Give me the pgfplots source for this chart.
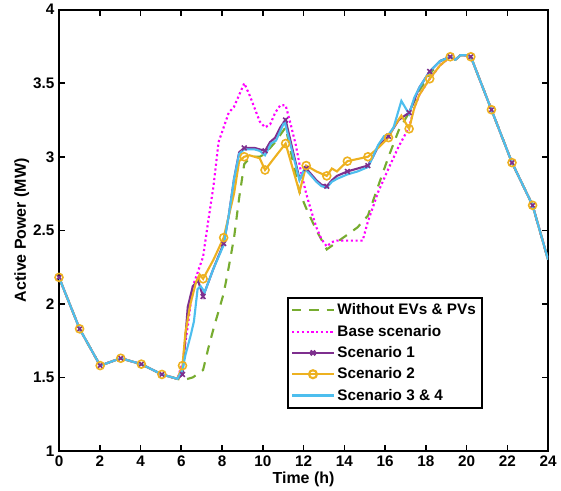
\documentclass[border=0pt]{standalone}
\usepackage{pgfplots}
\pgfplotsset{compat=1.18}
\usepackage{fontspec}
\setmainfont{Liberation Sans}
\definecolor{cgreen}{RGB}{119,172,48}
\definecolor{cmag}{RGB}{255,0,255}
\definecolor{cpurple}{RGB}{126,47,142}
\definecolor{corange}{RGB}{237,177,32}
\definecolor{ccyan}{RGB}{77,190,238}
\newcommand{\lfont}{\bfseries\fontsize{11.5}{13.5}\selectfont}
\newcommand{\xfont}{\bfseries\fontsize{12}{14}\selectfont}
\begin{document}
\begin{tikzpicture}
\begin{axis}[
  width=368pt, height=332pt, scale only axis,
  xmin=0, xmax=24, ymin=1, ymax=4,
  xtick={0,2,...,24}, ytick={1,1.5,...,4},
  tick align=inside, major tick length=4.5pt,
  axis line style={line width=1.4pt},
  every tick/.style={black, line width=1.2pt},
  /pgf/number format/assume math mode=true,
  ticklabel style={font=\lfont},
  label style={font=\xfont},
  xlabel={Time (h)}, ylabel={Active Power (MW)},
  ylabel shift=-4pt, xlabel shift=-3pt,
  legend cell align=left,
  legend style={at={(0.466,0.349)}, anchor=north west, draw=black,
    line width=1.3pt, font=\lfont, row sep=2.2pt, inner sep=2.5pt},
  legend image code/.code={\draw[mark repeat=2,mark phase=2,#1]
    plot coordinates {(0cm,0cm) (0.55cm,0cm) (1.1cm,0cm)};},
]
\addlegendimage{cgreen, line width=1.6pt, dash pattern=on 7pt off 6pt}
\addlegendimage{cmag, line width=1.6pt, dotted}
\addlegendimage{cpurple, line width=1.6pt, mark=x, mark size=2.5pt}
\addlegendimage{corange, line width=1.6pt, mark=o, mark size=3pt}
\addlegendimage{ccyan, line width=1.6pt}
\legend{Without EVs \& PVs, Base scenario, Scenario 1, Scenario 2, Scenario 3 \& 4}

% Without EVs & PVs
\addplot[forget plot, cgreen, line width=1.6pt, dash pattern=on 7pt off 6pt] coordinates {
(0,2.18)(1.01,1.83)(2.02,1.58)(3.03,1.63)(4.04,1.59)(5.05,1.52)(5.81,1.49)
(6.06,1.48)(6.57,1.5)(7.07,1.55)(7.33,1.7)(7.58,1.83)(8.08,2.07)(8.33,2.25)(8.59,2.45)
(8.84,2.72)(9.09,2.95)(9.35,2.99)(9.6,3.0)(9.85,3.0)(10.11,3.02)(10.61,3.1)(11.12,3.2)
(11.8,2.76)(12.13,2.65)(12.63,2.5)(13.14,2.37)(13.64,2.42)(14.15,2.47)(14.65,2.52)
(15.16,2.6)(15.66,2.8)(16.17,3.0)(16.67,3.18)(17.18,3.3)(17.68,3.45)(18.19,3.56)
(18.69,3.65)(19.2,3.68)(19.45,3.66)(19.7,3.69)(19.95,3.69)(20.21,3.68)(21.22,3.32)
(22.23,2.96)(23.24,2.67)(24,2.3)};

% Base scenario
\addplot[forget plot, cmag, line width=1.6pt, dotted] coordinates {
(0,2.18)(1.01,1.83)(2.02,1.58)(3.03,1.63)(4.04,1.59)(5.05,1.52)(5.81,1.49)
(6.06,1.6)(6.32,1.85)(6.57,2.12)(6.82,2.22)(7.07,2.32)(7.33,2.57)(7.58,2.8)(7.83,3.1)
(8.08,3.2)(8.33,3.3)(8.59,3.34)(8.84,3.42)(9.09,3.5)(9.35,3.42)(9.6,3.33)(9.85,3.24)
(10.11,3.2)(10.36,3.22)(10.61,3.3)(10.86,3.35)(11.12,3.35)(11.37,3.22)(11.62,3.08)
(11.87,2.9)(12.13,2.75)(12.38,2.63)(12.63,2.52)(12.88,2.44)(13.14,2.39)(13.39,2.42)
(13.64,2.43)(14.15,2.43)(14.9,2.43)(15.16,2.56)(15.66,2.76)(16.17,2.92)(16.67,3.07)
(17.18,3.2)(17.43,3.33)(17.68,3.42)(18.19,3.53)(18.69,3.62)(19.2,3.68)(19.45,3.66)
(19.7,3.69)(19.95,3.69)(20.21,3.68)(21.22,3.32)(22.23,2.96)(23.24,2.67)(24,2.3)};

% Scenario 1
\addplot[forget plot, cpurple, line width=1.6pt] coordinates {
(0,2.18)(1.01,1.83)(2.02,1.58)(3.03,1.63)(4.04,1.59)(5.05,1.52)(5.81,1.49)
(6.06,1.52)(6.32,1.98)(6.57,2.12)(6.82,2.16)(7.07,2.05)(7.58,2.24)(8.08,2.41)(8.33,2.6)
(8.59,2.85)(8.84,3.03)(9.09,3.06)(9.6,3.06)(9.85,3.05)(10.11,3.04)(10.36,3.1)(10.61,3.13)
(10.86,3.2)(11.12,3.25)(11.8,2.85)(12.13,2.92)(12.38,2.88)(12.63,2.84)(12.88,2.81)
(13.14,2.8)(13.39,2.84)(13.64,2.87)(14.15,2.9)(14.65,2.92)(15.16,2.94)(15.41,3.0)
(15.66,3.07)(16.17,3.14)(16.67,3.25)(17.18,3.3)(17.68,3.47)(18.19,3.58)(18.69,3.65)
(19.2,3.68)(19.45,3.66)(19.7,3.69)(19.95,3.69)(20.21,3.68)(21.22,3.32)(22.23,2.96)
(23.24,2.67)(24,2.3)};
\addplot[forget plot, only marks, cpurple, mark=x, mark size=2.5pt, line width=1.2pt] coordinates {
(0,2.18)(1.01,1.83)(2.02,1.58)(3.03,1.63)(4.04,1.59)(5.05,1.52)(6.06,1.52)(7.07,2.05)
(8.08,2.41)(9.09,3.06)(10.11,3.04)(11.12,3.25)(12.13,2.92)(13.14,2.8)(14.15,2.9)
(15.16,2.94)(16.17,3.14)(17.18,3.3)(18.19,3.58)(19.2,3.68)(20.21,3.68)(21.22,3.32)
(22.23,2.96)(23.24,2.67)};

% Scenario 2
\addplot[forget plot, corange, line width=1.6pt] coordinates {
(0,2.18)(1.01,1.83)(2.02,1.58)(3.03,1.63)(4.04,1.59)(5.05,1.52)(5.81,1.49)
(6.06,1.58)(6.2,1.8)(6.45,2.0)(6.73,2.15)(6.9,2.2)(7.07,2.17)(7.58,2.3)(8.08,2.45)
(8.59,2.75)(8.84,2.97)(9.09,3.0)(9.35,3.01)(9.85,2.99)(10.11,2.91)(10.61,3.0)(11.12,3.09)
(11.8,2.76)(12.13,2.94)(12.63,2.9)(13.14,2.87)(13.39,2.92)(13.64,2.9)(14.15,2.97)
(15.16,3.0)(15.66,3.06)(16.17,3.13)(16.42,3.2)(16.8,3.28)(17.18,3.19)(17.43,3.33)
(17.68,3.42)(18.19,3.53)(18.69,3.62)(19.2,3.68)(19.45,3.66)(19.7,3.69)(19.95,3.69)
(20.21,3.68)(21.22,3.32)(22.23,2.96)(23.24,2.67)(24,2.3)};
\addplot[forget plot, only marks, corange, mark=o, mark size=3pt, line width=1.2pt] coordinates {
(0,2.18)(1.01,1.83)(2.02,1.58)(3.03,1.63)(4.04,1.59)(5.05,1.52)(6.06,1.58)(7.07,2.17)
(8.08,2.45)(9.09,3.0)(10.11,2.91)(11.12,3.09)(12.13,2.94)(13.14,2.87)(14.15,2.97)
(15.16,3.0)(16.17,3.13)(17.18,3.19)(18.19,3.53)(19.2,3.68)(20.21,3.68)(21.22,3.32)
(22.23,2.96)(23.24,2.67)};

% Scenario 3 & 4
\addplot[forget plot, ccyan, line width=1.6pt] coordinates {
(0,2.18)(1.01,1.83)(2.02,1.58)(3.03,1.63)(4.04,1.59)(5.05,1.52)(5.81,1.49)
(6.06,1.55)(6.2,1.65)(6.47,1.79)(6.62,1.88)(6.8,2.1)(6.95,2.12)(7.15,2.08)(7.58,2.24)
(8.08,2.4)(8.33,2.6)(8.59,2.85)(8.84,3.02)(9.09,3.05)(9.6,3.05)(9.85,3.04)(10.11,3.01)
(10.4,3.09)(10.65,3.11)(11.07,3.24)(11.8,2.84)(12.05,2.92)(12.38,2.87)(12.63,2.83)
(12.88,2.8)(13.14,2.79)(13.39,2.83)(13.64,2.85)(14.15,2.88)(14.65,2.9)(15.16,2.93)
(15.41,3.0)(15.66,3.08)(15.95,3.14)(16.17,3.15)(16.42,3.2)(16.8,3.38)(17.18,3.29)
(17.43,3.4)(17.68,3.47)(18.19,3.58)(18.69,3.65)(19.2,3.68)(19.45,3.66)(19.7,3.69)
(19.95,3.69)(20.21,3.68)(21.22,3.32)(22.23,2.96)(23.24,2.67)(24,2.3)};
\end{axis}
% white margin like the reference
\path ([xshift=-7.5pt]current bounding box.north west) rectangle (current bounding box.south east);
\end{tikzpicture}
\end{document}
